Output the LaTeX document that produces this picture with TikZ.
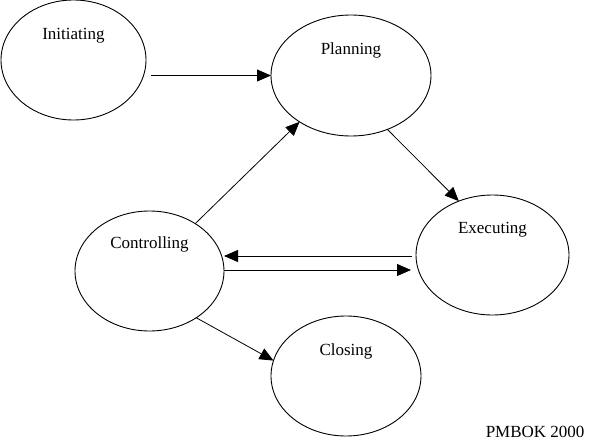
\documentclass[tikz,border=0pt]{standalone}
\usepackage{fontspec}
\setmainfont{Liberation Serif}
\usetikzlibrary{arrows.meta,shapes.geometric}

\begin{document}
\begin{tikzpicture}[x=1pt,y=-1pt,>={Triangle[length=14pt,width=12pt]},
    every node/.style={font=\fontsize{17}{20}\selectfont},
    phase/.style={ellipse,draw,line width=0.9pt,inner sep=0pt,outer sep=0pt},
    arr/.style={->,line width=0.8pt}]
    \useasboundingbox (0,0) rectangle (590,442);
    % phases
    \node[phase,minimum width=145pt,minimum height=120pt] (init) at (73.5,60) {};
    \node[phase,minimum width=160pt,minimum height=121pt] (plan) at (351,75.5) {};
    \node[phase,minimum width=153pt,minimum height=120pt] (exec) at (492.5,255) {};
    \node[phase,minimum width=149pt,minimum height=120pt] (ctrl) at (149.5,271) {};
    \node[phase,minimum width=150pt,minimum height=120pt] (clos) at (346,376) {};
    \node[anchor=base] (initT) at ([yshift=21pt]init.center) {Initiating};
    \node[anchor=base] (planT) at ([yshift=21pt]plan.center) {Planning};
    \node[anchor=base] (execT) at ([yshift=21.5pt]exec.center) {Executing};
    \node[anchor=base] (ctrlT) at ([yshift=22.5pt]ctrl.center) {Controlling};
    \node[anchor=base] (closT) at ([yshift=21pt]clos.center) {Closing};
    % arrows
    \draw[arr] ([xshift=5pt]init.east |- plan.west) -- (plan.west);
    \draw[arr] (ctrl.46.5) -- (plan.222);
    \draw[arr] ([shorten <=1pt]plan.304) -- (exec.122);
    \draw[arr] ([xshift=-4pt,yshift=-1pt]exec.west) -- ([yshift=-1pt]exec.west -| ctrl.east);
    \draw[arr] ([yshift=1pt]ctrl.east) -- ([xshift=-5pt,yshift=1pt]ctrl.east -| exec.west);
    \draw[arr] (ctrl.315) -- (clos.168);
    \node[anchor=base east] (src) at (588,437) {PMBOK 2000};
\end{tikzpicture}
\end{document}
